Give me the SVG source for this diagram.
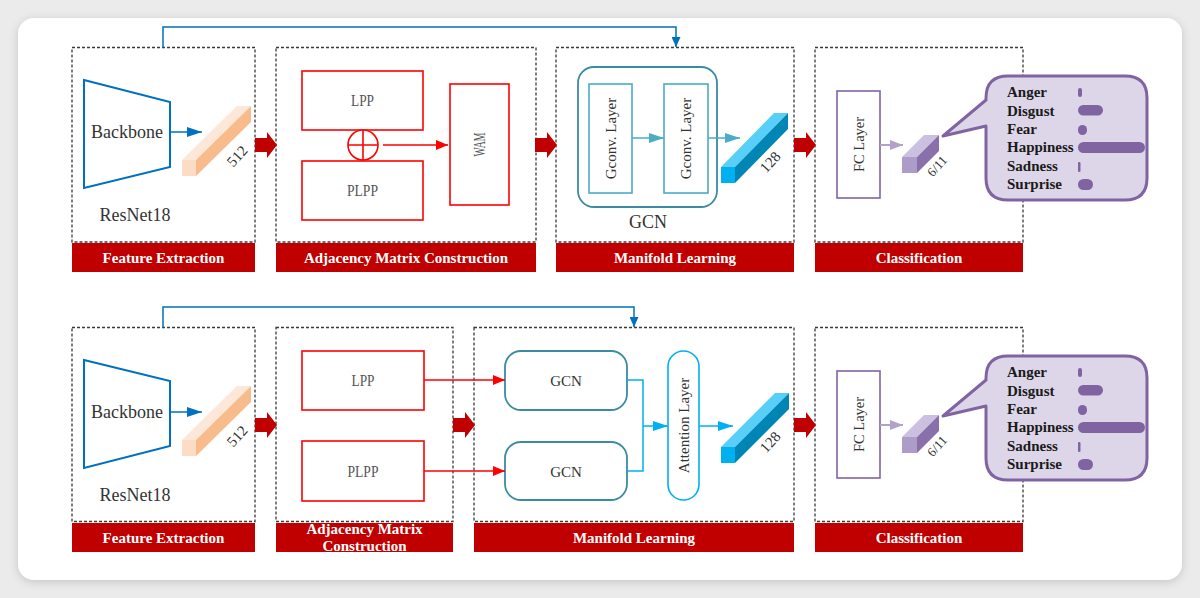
<svg xmlns="http://www.w3.org/2000/svg" width="1200" height="598" viewBox="0 0 1200 598">
<defs>
<style>
.dash{fill:none;stroke:#3a3a3a;stroke-width:1.3;stroke-dasharray:3 2}
.lbl{fill:#c00000}
.lblt{font-family:"Liberation Serif",serif;font-weight:bold;font-size:15px;fill:#fff;text-anchor:middle}
.t{font-family:"Liberation Serif",serif;fill:#333;text-anchor:middle}
.tg{font-family:"Liberation Serif",serif;fill:#555;text-anchor:middle;font-size:16px}
.redbox{fill:#fff;stroke:#ff0000;stroke-width:1.6}
.cls{font-family:"Liberation Serif",serif;font-weight:bold;font-size:15px;fill:#1a1a1a}
.pb{fill:#8064a2}
.big{fill:#c00000}
.bb{fill:none;stroke:#0070c0;stroke-width:2}
.gc{fill:#fff;stroke:#3b8ba3;stroke-width:1.8}
.gl{fill:#fff;stroke:#4bacc6;stroke-width:1.6}
</style>
<filter id="sh" x="-5%" y="-5%" width="110%" height="115%">
<feDropShadow dx="0" dy="2" stdDeviation="5" flood-color="#000" flood-opacity="0.16"/>
</filter>
<marker id="mBlue" markerUnits="userSpaceOnUse" markerWidth="15" markerHeight="10" viewBox="0 0 15 10" refX="15" refY="5" orient="auto"><path d="M0,0 L15,5 L0,10 Z" fill="#0070c0"/></marker>
<marker id="mBlueS" markerUnits="userSpaceOnUse" markerWidth="10" markerHeight="9" viewBox="0 0 10 9" refX="10" refY="4.5" orient="auto"><path d="M0,0 L10,4.5 L0,9 Z" fill="#0070c0"/></marker>
<marker id="mRed" markerUnits="userSpaceOnUse" markerWidth="12" markerHeight="10" viewBox="0 0 12 10" refX="12" refY="5" orient="auto"><path d="M0,0 L12,5 L0,10 Z" fill="#ff0000"/></marker>
<marker id="mTeal" markerUnits="userSpaceOnUse" markerWidth="15" markerHeight="10" viewBox="0 0 15 10" refX="15" refY="5" orient="auto"><path d="M0,0 L15,5 L0,10 Z" fill="#4bacc6"/></marker>
<marker id="mCyan" markerUnits="userSpaceOnUse" markerWidth="15" markerHeight="10" viewBox="0 0 15 10" refX="15" refY="5" orient="auto"><path d="M0,0 L15,5 L0,10 Z" fill="#00b0f0"/></marker>
<marker id="mPur" markerUnits="userSpaceOnUse" markerWidth="13" markerHeight="10" viewBox="0 0 13 10" refX="13" refY="5" orient="auto"><path d="M0,0 L13,5 L0,10 Z" fill="#b3a2c7"/></marker>
<path id="bigArrow" d="M0,-7 H12 V-13 L22,0 L12,13 V7 H0 Z"/>
</defs>

<rect x="0" y="0" width="1200" height="598" fill="#ebebeb"/>
<rect x="18" y="18" width="1164" height="562" rx="16" fill="#fff" filter="url(#sh)"/>

<!-- ===== TOP ROW ===== -->
<g id="stage-fe-top">
<rect class="dash" x="72" y="47.5" width="183" height="194.5"/>
<rect class="lbl" x="72" y="243" width="183" height="29"/>
<text class="lblt" x="163.5" y="262.5">Feature Extraction</text>
</g>
<g id="backbone-top">
<polygon class="bb" points="84,80 170,102 170,167 84,188"/>
<text class="t" x="127" y="138" font-size="18">Backbone</text>
<text class="t" x="135" y="221" font-size="18">ResNet18</text>
</g>
<g id="feat512-top">
<polygon points="182,160 196,160 251,106 237,106" fill="#fde7d8"/>
<polygon points="196,160 196,176 251,122 251,106" fill="#f8bb8c"/>
<rect x="182" y="160" width="14" height="16" fill="#fcdcc4"/>
<text class="t" transform="translate(237,156) rotate(-48)" dy="0.35em" font-size="15">512</text>
</g>

<g id="stage-adj-top">
<rect class="dash" x="276" y="47.5" width="260" height="194.5"/>
<rect class="lbl" x="276" y="243" width="260" height="29"/>
<text class="lblt" x="406" y="262.5">Adjacency Matrix Construction</text>
</g>
<g id="lpp-top"><rect class="redbox" x="302" y="71" width="121" height="59"/><text class="tg" x="362.5" y="106" textLength="23" lengthAdjust="spacingAndGlyphs">LPP</text></g>
<g id="plpp-top"><rect class="redbox" x="302" y="161" width="121" height="59"/><text class="tg" x="362.5" y="196" textLength="31" lengthAdjust="spacingAndGlyphs">PLPP</text></g>
<g id="plus-top">
<circle cx="363" cy="145" r="15" fill="#fff" stroke="#ff0000" stroke-width="1.6"/>
<path d="M348,145 H378 M363,130 V160" stroke="#ff0000" stroke-width="1.6"/>
</g>
<g id="wam-top"><rect class="redbox" x="450" y="84" width="59" height="121"/><text class="tg" transform="translate(479.5,144.5) rotate(-90)" dy="0.35em" textLength="24" lengthAdjust="spacingAndGlyphs">WAM</text></g>

<g id="stage-man-top">
<rect class="dash" x="556" y="47.5" width="238" height="194.5"/>
<rect class="lbl" x="556" y="243" width="238" height="29"/>
<text class="lblt" x="675" y="262.5">Manifold Learning</text>
</g>
<g id="gcn-top">
<rect class="gc" x="578" y="67" width="139" height="140" rx="16"/>
<text class="t" x="648" y="228" font-size="18">GCN</text>
</g>
<g id="gconv1-top"><rect class="gl" x="589" y="84" width="43" height="109"/><text class="t" transform="translate(610.5,138.5) rotate(-90)" dy="0.35em" font-size="15">Gconv. Layer</text></g>
<g id="gconv2-top"><rect class="gl" x="664" y="84" width="44" height="109"/><text class="t" transform="translate(686,138.5) rotate(-90)" dy="0.35em" font-size="15">Gconv. Layer</text></g>
<g id="feat128-top">
<polygon points="721,167 735,167 788,113 774,113" fill="#57cff9"/>
<polygon points="735,167 735,183 788,129 788,113" fill="#0086b4"/>
<rect x="721" y="167" width="14" height="16" fill="#00b0f0"/>
<text class="t" transform="translate(770,162) rotate(-48)" dy="0.35em" font-size="15">128</text>
</g>

<g id="stage-cls-top">
<rect class="dash" x="815" y="47.5" width="208" height="194.5"/>
<rect class="lbl" x="815" y="243" width="208" height="29"/>
<text class="lblt" x="919" y="262.5">Classification</text>
</g>
<g id="fc-top"><rect x="837" y="91" width="43" height="107" fill="#fff" stroke="#8064a2" stroke-width="1.6"/><text class="t" transform="translate(858.5,144.5) rotate(-90)" dy="0.35em" font-size="14.5">FC Layer</text></g>
<g id="out-top">
<polygon points="902,157 917,157 939,135 924,135" fill="#ccc0e0"/>
<polygon points="917,157 917,173 939,151 939,135" fill="#8a70ab"/>
<rect x="902" y="157" width="15" height="16" fill="#ad9cca"/>
<text class="t" transform="translate(937,166) rotate(-48)" dy="0.35em" font-size="13">6/11</text>
</g>
<g id="callout-top">
<path d="M1008,76 H1125 Q1147,76 1147,98 V178 Q1147,200 1125,200 H1008 Q986,200 986,178 V126 L943,136 L986,100 V98 Q986,76 1008,76 Z" fill="#ddd6e8" stroke="#8064a2" stroke-width="3" stroke-linejoin="round"/>
<text class="cls" x="1007" y="97">Anger</text>
<text class="cls" x="1007" y="115.5">Disgust</text>
<text class="cls" x="1007" y="134">Fear</text>
<text class="cls" x="1007" y="152">Happiness</text>
<text class="cls" x="1007" y="170.5">Sadness</text>
<text class="cls" x="1007" y="189">Surprise</text>
<rect class="pb" x="1078" y="88" width="4" height="9" rx="2"/>
<rect class="pb" x="1078" y="105" width="25" height="10.5" rx="5.25"/>
<rect class="pb" x="1078" y="125" width="9" height="10" rx="4.5"/>
<rect class="pb" x="1078" y="142" width="67" height="11" rx="5.5"/>
<rect class="pb" x="1078" y="162" width="2.5" height="10" rx="1"/>
<rect class="pb" x="1078" y="179" width="15" height="11" rx="5.5"/>
</g>

<!-- ===== BOTTOM ROW ===== -->
<g id="stage-fe-bot">
<rect class="dash" x="72" y="327.5" width="183" height="194"/>
<rect class="lbl" x="72" y="523" width="183" height="29"/>
<text class="lblt" x="163.5" y="542.5">Feature Extraction</text>
</g>
<g id="backbone-bot">
<polygon class="bb" points="84,360 170,381 170,446 84,468"/>
<text class="t" x="127" y="418" font-size="18">Backbone</text>
<text class="t" x="135" y="501" font-size="18">ResNet18</text>
</g>
<g id="feat512-bot">
<polygon points="182,440 196,440 251,386 237,386" fill="#fde7d8"/>
<polygon points="196,440 196,456 251,402 251,386" fill="#f8bb8c"/>
<rect x="182" y="440" width="14" height="16" fill="#fcdcc4"/>
<text class="t" transform="translate(237,436) rotate(-48)" dy="0.35em" font-size="15">512</text>
</g>

<g id="stage-adj-bot">
<rect class="dash" x="276" y="327.5" width="177" height="194"/>
<rect class="lbl" x="276" y="523" width="177" height="29"/>
<text class="lblt" x="364.5" y="534">Adjacency Matrix</text>
<text class="lblt" x="364.5" y="551">Construction</text>
</g>
<g id="lpp-bot"><rect class="redbox" x="302" y="351" width="122" height="59"/><text class="tg" x="363" y="386" textLength="23" lengthAdjust="spacingAndGlyphs">LPP</text></g>
<g id="plpp-bot"><rect class="redbox" x="302" y="441" width="122" height="60"/><text class="tg" x="363" y="476.5" textLength="31" lengthAdjust="spacingAndGlyphs">PLPP</text></g>

<g id="stage-man-bot">
<rect class="dash" x="474" y="327.5" width="320" height="194"/>
<rect class="lbl" x="474" y="523" width="320" height="29"/>
<text class="lblt" x="634" y="542.5">Manifold Learning</text>
</g>
<g id="gcn1-bot"><rect class="gc" x="505" y="351" width="122" height="59" rx="16"/><text class="t" x="566" y="386" font-size="15">GCN</text></g>
<g id="gcn2-bot"><rect class="gc" x="505" y="442" width="122" height="58" rx="16"/><text class="t" x="566" y="476.5" font-size="15">GCN</text></g>
<g id="attn-bot"><rect x="668" y="351" width="31" height="149" rx="15.5" fill="#fff" stroke="#00b0f0" stroke-width="1.6"/><text class="t" transform="translate(683.5,425.5) rotate(-90)" dy="0.35em" font-size="15">Attention Layer</text></g>
<g id="feat128-bot">
<polygon points="721,447 735,447 789,393 775,393" fill="#57cff9"/>
<polygon points="735,447 735,463 789,409 789,393" fill="#0086b4"/>
<rect x="721" y="447" width="14" height="16" fill="#00b0f0"/>
<text class="t" transform="translate(770,442) rotate(-48)" dy="0.35em" font-size="15">128</text>
</g>

<g id="stage-cls-bot">
<rect class="dash" x="815" y="327.5" width="208" height="194"/>
<rect class="lbl" x="815" y="523" width="208" height="29"/>
<text class="lblt" x="919" y="542.5">Classification</text>
</g>
<g id="fc-bot"><rect x="837" y="371" width="43" height="107" fill="#fff" stroke="#8064a2" stroke-width="1.6"/><text class="t" transform="translate(858.5,424.5) rotate(-90)" dy="0.35em" font-size="14.5">FC Layer</text></g>
<g id="out-bot">
<polygon points="902,437 917,437 939,415 924,415" fill="#ccc0e0"/>
<polygon points="917,437 917,453 939,431 939,415" fill="#8a70ab"/>
<rect x="902" y="437" width="15" height="16" fill="#ad9cca"/>
<text class="t" transform="translate(937,446) rotate(-48)" dy="0.35em" font-size="13">6/11</text>
</g>
<g id="callout-bot">
<path d="M1008,356 H1125 Q1147,356 1147,378 V458 Q1147,480 1125,480 H1008 Q986,480 986,458 V406 L943,416 L986,380 V378 Q986,356 1008,356 Z" fill="#ddd6e8" stroke="#8064a2" stroke-width="3" stroke-linejoin="round"/>
<text class="cls" x="1007" y="377">Anger</text>
<text class="cls" x="1007" y="395.5">Disgust</text>
<text class="cls" x="1007" y="414">Fear</text>
<text class="cls" x="1007" y="432">Happiness</text>
<text class="cls" x="1007" y="450.5">Sadness</text>
<text class="cls" x="1007" y="469">Surprise</text>
<rect class="pb" x="1078" y="368" width="4" height="9" rx="2"/>
<rect class="pb" x="1078" y="385" width="25" height="10.5" rx="5.25"/>
<rect class="pb" x="1078" y="405" width="9" height="10" rx="4.5"/>
<rect class="pb" x="1078" y="422" width="67" height="11" rx="5.5"/>
<rect class="pb" x="1078" y="442" width="2.5" height="10" rx="1"/>
<rect class="pb" x="1078" y="459" width="15" height="11" rx="5.5"/>
</g>

<!-- ===== CONNECTORS ===== -->
<g id="connectors" fill="none">
<path d="M163,47.5 V27 H676 V47" stroke="#0070c0" stroke-width="1.5" marker-end="url(#mBlueS)"/>
<path d="M163,327.5 V307 H634 V327" stroke="#0070c0" stroke-width="1.5" marker-end="url(#mBlueS)"/>
<path d="M170,132 H202" stroke="#0070c0" stroke-width="1.5" marker-end="url(#mBlue)"/>
<path d="M170,412 H202" stroke="#0070c0" stroke-width="1.5" marker-end="url(#mBlue)"/>
<path d="M383,145 H448" stroke="#ff0000" stroke-width="1.3" marker-end="url(#mRed)"/>
<path d="M632,138 H664" stroke="#4bacc6" stroke-width="1.5" marker-end="url(#mTeal)"/>
<path d="M708,138 H740" stroke="#4bacc6" stroke-width="1.5" marker-end="url(#mTeal)"/>
<path d="M880,145 H903" stroke="#b3a2c7" stroke-width="2" marker-end="url(#mPur)"/>
<path d="M880,425 H903" stroke="#b3a2c7" stroke-width="2" marker-end="url(#mPur)"/>
<path d="M424,380 H505" stroke="#ff0000" stroke-width="1.3" marker-end="url(#mRed)"/>
<path d="M424,471 H505" stroke="#ff0000" stroke-width="1.3" marker-end="url(#mRed)"/>
<path d="M627,380 H643 V471 H627" stroke="#00b0f0" stroke-width="1.5"/>
<path d="M643,426 H668" stroke="#00b0f0" stroke-width="1.5" marker-end="url(#mCyan)"/>
<path d="M699,426 H733" stroke="#00b0f0" stroke-width="1.5" marker-end="url(#mCyan)"/>
<g class="big">
<use href="#bigArrow" x="255" y="145"/>
<use href="#bigArrow" x="535" y="145"/>
<use href="#bigArrow" x="794" y="145"/>
<use href="#bigArrow" x="255" y="425"/>
<use href="#bigArrow" x="453" y="425"/>
<use href="#bigArrow" x="794" y="425"/>
</g>
</g>
</svg>
